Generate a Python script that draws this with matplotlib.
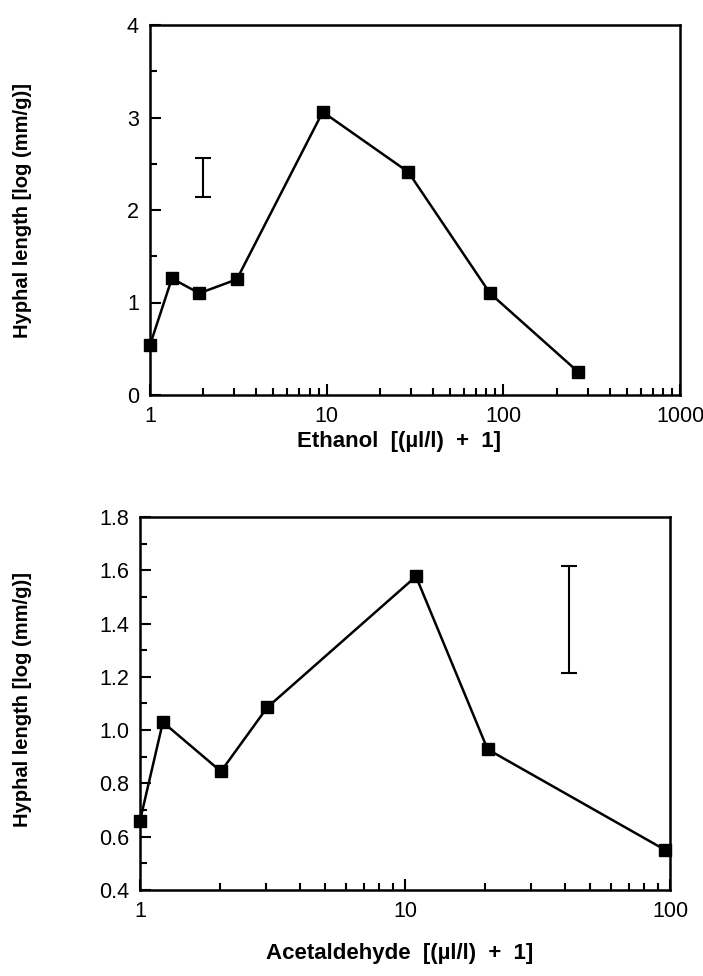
import matplotlib
matplotlib.use("Agg")
import matplotlib.pyplot as plt
from matplotlib.ticker import FixedLocator, FixedFormatter, MultipleLocator, LogLocator, NullFormatter

plt.rcParams['font.family'] = ['Liberation Sans', 'DejaVu Sans']

# Ethanol panel data
eth_x = [1.0, 1.33, 1.9, 3.1, 9.5, 29, 84, 265]
eth_y = [0.54, 1.26, 1.10, 1.25, 3.06, 2.41, 1.10, 0.25]
eth_err_x = 2.0
eth_err_lo, eth_err_hi = 2.14, 2.56

# Acetaldehyde panel data
ace_x = [1.0, 1.22, 2.02, 3.02, 11.0, 20.5, 96]
ace_y = [0.66, 1.03, 0.845, 1.085, 1.577, 0.928, 0.55]
ace_err_x = 41.5
ace_err_lo, ace_err_hi = 1.214, 1.615

eth_xticks = [1, 10, 100, 1000]
eth_xlabels = ['1', '10', '100', '1000']
eth_yticks = [0, 1, 2, 3, 4]
eth_ylabels = ['0', '1', '2', '3', '4']
ace_xticks = [1, 10, 100]
ace_xlabels = ['1', '10', '100']
ace_yticks = [0.4, 0.6, 0.8, 1.0, 1.2, 1.4, 1.6, 1.8]
ace_ylabels = ['0.4', '0.6', '0.8', '1.0', '1.2', '1.4', '1.6', '1.8']

fig = plt.figure(figsize=(7.03, 9.76), dpi=100)
ax1 = fig.add_axes([150/703, 1-395/976, 530/703, 370/976])
ax2 = fig.add_axes([140/703, 1-890/976, 530/703, 373/976])

def style(ax, xt, xl, yt, yl, yminor):
    ax.set_xscale('log')
    ax.xaxis.set_major_locator(FixedLocator(xt))
    ax.xaxis.set_major_formatter(FixedFormatter(xl))
    ax.xaxis.set_minor_locator(LogLocator(base=10, subs=range(2, 10)))
    ax.xaxis.set_minor_formatter(NullFormatter())
    ax.yaxis.set_major_locator(FixedLocator(yt))
    ax.yaxis.set_major_formatter(FixedFormatter(yl))
    ax.yaxis.set_minor_locator(MultipleLocator(yminor))
    ax.tick_params(which='both', direction='in', top=False, right=False,
                   width=1.5, labelsize=15.5, pad=8, colors='black')
    ax.tick_params(which='major', length=8)
    ax.tick_params(which='minor', length=5)
    for s in ax.spines.values():
        s.set_linewidth(1.8)

ax1.plot(eth_x, eth_y, color='black', lw=1.8, marker='s', ms=8.5, mfc='black', mec='black',
         clip_on=False, zorder=5)
ax1.errorbar([eth_err_x], [(eth_err_lo+eth_err_hi)/2], yerr=[[(eth_err_hi-eth_err_lo)/2]],
             fmt='none', ecolor='black', elinewidth=1.5, capsize=6, capthick=1.5)
ax1.set_xlim(1, 1000)
ax1.set_ylim(0, 4)
style(ax1, eth_xticks, eth_xlabels, eth_yticks, eth_ylabels, 0.5)
ax1.set_xlabel('Ethanol  [(µl/l)  +  1]', fontsize=16, fontweight='bold')
ax1.set_ylabel('Hyphal length [log (mm/g)]', fontsize=14.5, fontweight='bold')
ax1.xaxis.set_label_coords(0.47, -0.097)
ax1.yaxis.set_label_coords(-0.223, 0.5)

ax2.plot(ace_x, ace_y, color='black', lw=1.8, marker='s', ms=8.5, mfc='black', mec='black',
         clip_on=False, zorder=5)
ax2.errorbar([ace_err_x], [(ace_err_lo+ace_err_hi)/2], yerr=[[(ace_err_hi-ace_err_lo)/2]],
             fmt='none', ecolor='black', elinewidth=1.5, capsize=6, capthick=1.5)
ax2.set_xlim(1, 100)
ax2.set_ylim(0.4, 1.8)
style(ax2, ace_xticks, ace_xlabels, ace_yticks, ace_ylabels, 0.1)
ax2.set_xlabel('Acetaldehyde  [(µl/l)  +  1]', fontsize=16, fontweight='bold')
ax2.set_ylabel('Hyphal length [log (mm/g)]', fontsize=14.5, fontweight='bold')
ax2.xaxis.set_label_coords(0.489, -0.142)
ax2.yaxis.set_label_coords(-0.204, 0.51)

fig.savefig('out.png', dpi=100, facecolor='white')
